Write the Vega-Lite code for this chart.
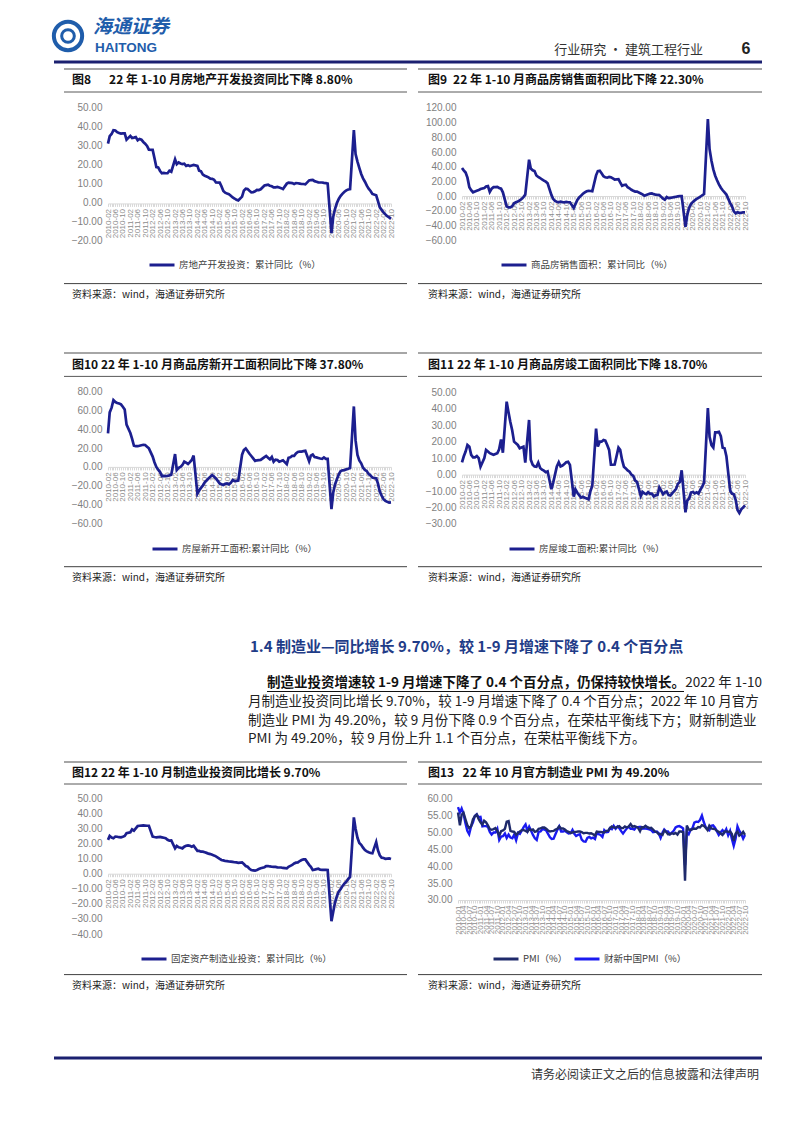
{
"$schema": "https://vega.github.io/schema/vega-lite/v6.json",
"background": "white",
"autosize": {"type": "pad"},
"padding": {"left": 45, "top": 8, "right": 0, "bottom": 0},
"config": {"view": {"stroke": null}, "font": "Noto Sans CJK SC"},
"datasets": {"m": [
{"d":"2010-01","p":55.8,"cx":57.4},
{"d":"2010-02","a":31.1,"b":38.2,"c":35.6,"e":7.5,"f":22.4,"p":52.0,"cx":55.8},
{"d":"2010-03","a":35.1,"b":35,"c":58,"e":11,"f":25,"p":55.1,"cx":57.0},
{"d":"2010-04","a":36.2,"b":32,"c":63,"e":14,"f":24,"p":55.7,"cx":55.4},
{"d":"2010-05","a":38.2,"b":25,"c":71,"e":18,"f":23.5,"p":53.9,"cx":52.7},
{"d":"2010-06","a":38.1,"b":12,"c":69,"e":17,"f":24.6,"p":52.1,"cx":50.4},
{"d":"2010-07","a":37.2,"b":8,"c":68,"e":12,"f":24.5,"p":51.2,"cx":49.4},
{"d":"2010-08","a":36.7,"b":5,"c":67.5,"e":10.5,"f":24.2,"p":51.7,"cx":51.7},
{"d":"2010-09","a":36.4,"b":6,"c":66.5,"e":10.5,"f":24.1,"p":53.8,"cx":52.9},
{"d":"2010-10","a":36.5,"b":7,"c":64,"e":11.3,"f":24.5,"p":54.7,"cx":54.8},
{"d":"2010-11","a":36.5,"b":8,"c":61,"e":10,"f":25,"p":55.2,"cx":55.3},
{"d":"2010-12","a":33.2,"b":9.5,"c":45,"e":4.8,"f":26.8,"p":53.9,"cx":54.4},
{"d":"2011-01","p":52.9,"cx":54.5},
{"d":"2011-02","a":35.2,"b":11,"c":36,"e":10,"f":27.5,"p":52.2,"cx":51.7},
{"d":"2011-03","a":34.1,"b":13,"c":30,"e":15,"f":29.4,"p":53.4,"cx":51.8},
{"d":"2011-04","a":34.3,"b":13.5,"c":22.5,"e":14,"f":28.5,"p":52.9,"cx":51.8},
{"d":"2011-05","a":34.6,"b":5.5,"c":22,"e":13,"f":30,"p":52.0,"cx":51.6},
{"d":"2011-06","a":32.9,"b":10,"c":22,"e":12.5,"f":31.6,"p":50.9,"cx":50.1},
{"d":"2011-07","a":33.6,"b":12,"c":22.5,"e":12,"f":31.8,"p":50.7,"cx":49.3},
{"d":"2011-08","a":33.2,"b":12,"c":23,"e":12.5,"f":31.9,"p":50.9,"cx":49.9},
{"d":"2011-09","a":32.0,"b":12.5,"c":23.5,"e":13,"f":32,"p":51.2,"cx":49.9},
{"d":"2011-10","a":31.1,"b":11,"c":23.3,"e":15.4,"f":31.9,"p":50.4,"cx":51.0},
{"d":"2011-11","a":29.9,"b":10,"c":21.5,"e":21.4,"f":31.8,"p":49.0,"cx":47.7},
{"d":"2011-12","a":27.9,"b":5,"c":19.7,"e":13.3,"f":31.8,"p":50.3,"cx":48.7},
{"d":"2012-01","p":50.5,"cx":48.8},
{"d":"2012-02","a":27.8,"b":-14,"c":11,"e":44.3,"f":24.6,"p":51.0,"cx":49.6},
{"d":"2012-03","a":23.5,"b":-15.5,"c":5,"e":38,"f":24.3,"p":53.1,"cx":48.3},
{"d":"2012-04","a":18.7,"b":-15.5,"c":0,"e":32,"f":24.1,"p":53.3,"cx":49.3},
{"d":"2012-05","a":18.5,"b":-14,"c":-3,"e":27,"f":24.3,"p":50.4,"cx":48.4},
{"d":"2012-06","a":16.6,"b":-10,"c":-5.5,"e":20,"f":24.4,"p":50.2,"cx":48.2},
{"d":"2012-07","a":15.4,"b":-8.5,"c":-9.8,"e":19,"f":24.1,"p":50.1,"cx":49.3},
{"d":"2012-08","a":15.6,"b":-7.5,"c":-9.5,"e":18,"f":23.8,"p":49.2,"cx":47.6},
{"d":"2012-09","a":15.4,"b":-6,"c":-9.8,"e":16,"f":23.5,"p":49.8,"cx":49.8},
{"d":"2012-10","a":15.4,"b":-4,"c":-9.5,"e":16.5,"f":22.5,"p":50.2,"cx":49.5},
{"d":"2012-11","a":16.7,"b":-1.5,"c":-9,"e":17,"f":21.9,"p":50.6,"cx":50.5},
{"d":"2012-12","a":16.2,"b":1.8,"c":-8.4,"e":7.3,"f":22.0,"p":50.6,"cx":51.5},
{"d":"2013-01","p":50.4,"cx":52.3},
{"d":"2013-02","a":22.8,"b":49.5,"c":13.7,"e":33.2,"f":16.8,"p":50.1,"cx":50.4},
{"d":"2013-03","a":20.2,"b":37.5,"c":-3.3,"e":9,"f":18.4,"p":50.9,"cx":51.6},
{"d":"2013-04","a":21.1,"b":35,"c":-1,"e":6,"f":17.5,"p":50.6,"cx":50.4},
{"d":"2013-05","a":20.6,"b":34,"c":0,"e":5,"f":17.2,"p":50.8,"cx":49.2},
{"d":"2013-06","a":20.3,"b":28,"c":2,"e":4.8,"f":16.8,"p":50.1,"cx":48.2},
{"d":"2013-07","a":20.5,"b":26,"c":5.6,"e":7.3,"f":17.9,"p":50.3,"cx":47.7},
{"d":"2013-08","a":19.3,"b":24.5,"c":4.5,"e":4,"f":18.5,"p":51.0,"cx":50.1},
{"d":"2013-09","a":19.7,"b":22.5,"c":3.1,"e":3,"f":18.8,"p":51.1,"cx":50.2},
{"d":"2013-10","a":19.2,"b":21,"c":5,"e":2.4,"f":18.5,"p":51.4,"cx":50.9},
{"d":"2013-11","a":19.5,"b":19.5,"c":7.4,"e":1.5,"f":17.9,"p":51.4,"cx":50.8},
{"d":"2013-12","a":19.8,"b":17.3,"c":12,"e":2.0,"f":18.5,"p":51.0,"cx":50.5},
{"d":"2014-01","p":50.5,"cx":49.5},
{"d":"2014-02","a":19.3,"b":1.5,"c":-28.5,"e":-8.9,"f":15.1,"p":50.2,"cx":48.5},
{"d":"2014-03","a":16.8,"b":-3.8,"c":-25.2,"e":-5,"f":15.1,"p":50.3,"cx":48.0},
{"d":"2014-04","a":16.4,"b":-6.8,"c":-22.3,"e":0,"f":14.6,"p":50.4,"cx":48.1},
{"d":"2014-05","a":14.7,"b":-7.8,"c":-19.8,"e":5,"f":14.6,"p":50.8,"cx":49.4},
{"d":"2014-06","a":14.1,"b":-8.6,"c":-16.4,"e":7.5,"f":14.2,"p":51.0,"cx":50.7},
{"d":"2014-07","a":13.7,"b":-7.6,"c":-14.4,"e":5,"f":13.8,"p":51.7,"cx":51.7},
{"d":"2014-08","a":13.2,"b":-8.3,"c":-12.4,"e":5.5,"f":13.3,"p":51.1,"cx":50.2},
{"d":"2014-09","a":12.5,"b":-8.6,"c":-10.5,"e":6.5,"f":13.0,"p":51.1,"cx":50.2},
{"d":"2014-10","a":12.4,"b":-8.0,"c":-8.7,"e":7.5,"f":12.6,"p":50.8,"cx":50.4},
{"d":"2014-11","a":11.9,"b":-8.5,"c":-10.5,"e":7.8,"f":12.0,"p":50.3,"cx":50.0},
{"d":"2014-12","a":10.5,"b":-8.5,"c":-12.2,"e":5.9,"f":11.5,"p":50.1,"cx":49.6},
{"d":"2015-01","p":49.8,"cx":49.7},
{"d":"2015-02","a":10.4,"b":-16.3,"c":-17.7,"e":-13.4,"f":9.8,"p":49.9,"cx":50.7},
{"d":"2015-03","a":8.5,"b":-11,"c":-18.4,"e":-9,"f":9.1,"p":50.1,"cx":49.6},
{"d":"2015-04","a":6.0,"b":-5.5,"c":-19.3,"e":-11,"f":8.8,"p":50.1,"cx":48.9},
{"d":"2015-05","a":5.1,"b":-2,"c":-18,"e":-12.5,"f":8.4,"p":50.2,"cx":49.2},
{"d":"2015-06","a":4.6,"b":0.5,"c":-17.6,"e":-14,"f":8.3,"p":50.2,"cx":49.4},
{"d":"2015-07","a":4.3,"b":3,"c":-18.6,"e":-13.5,"f":8.1,"p":50.0,"cx":47.8},
{"d":"2015-08","a":3.5,"b":5,"c":-17,"e":-14,"f":8.0,"p":49.7,"cx":47.3},
{"d":"2015-09","a":2.6,"b":6.5,"c":-14,"e":-14.5,"f":7.8,"p":49.8,"cx":47.2},
{"d":"2015-10","a":2.0,"b":7,"c":-15,"e":-15,"f":7.6,"p":49.8,"cx":48.3},
{"d":"2015-11","a":1.3,"b":6.8,"c":-14.8,"e":-10,"f":7.5,"p":49.6,"cx":48.6},
{"d":"2015-12","a":1.0,"b":6.5,"c":-14.6,"e":-6.9,"f":7.2,"p":49.7,"cx":48.2},
{"d":"2016-01","p":49.4,"cx":48.4},
{"d":"2016-02","a":3.0,"b":28.2,"c":13,"e":27.9,"f":7.5,"p":49.0,"cx":48.0},
{"d":"2016-03","a":6.2,"b":34,"c":18,"e":17,"f":6.4,"p":50.2,"cx":49.7},
{"d":"2016-04","a":7.2,"b":34.5,"c":19.7,"e":20,"f":5.1,"p":50.1,"cx":49.4},
{"d":"2016-05","a":7.0,"b":31,"c":17,"e":20,"f":4.6,"p":50.1,"cx":49.2},
{"d":"2016-06","a":6.1,"b":27,"c":14,"e":21,"f":3.3,"p":50.0,"cx":48.6},
{"d":"2016-07","a":5.3,"b":25.5,"c":11.6,"e":20.6,"f":2.4,"p":49.9,"cx":50.6},
{"d":"2016-08","a":5.4,"b":25,"c":9,"e":18,"f":2.2,"p":50.4,"cx":50.0},
{"d":"2016-09","a":5.8,"b":26,"c":6.3,"e":15,"f":2.0,"p":50.4,"cx":50.1},
{"d":"2016-10","a":6.6,"b":25.5,"c":7,"e":6,"f":2.5,"p":51.2,"cx":51.2},
{"d":"2016-11","a":6.5,"b":24,"c":7.2,"e":6,"f":3.1,"p":51.7,"cx":50.9},
{"d":"2016-12","a":6.9,"b":22.5,"c":7.4,"e":6.1,"f":3.6,"p":51.4,"cx":51.9},
{"d":"2017-01","p":51.3,"cx":51.0},
{"d":"2017-02","a":8.9,"b":23,"c":10.4,"e":16.4,"f":4.3,"p":51.6,"cx":51.7},
{"d":"2017-03","a":9.1,"b":18.5,"c":11.6,"e":15,"f":5.0,"p":51.8,"cx":51.2},
{"d":"2017-04","a":9.3,"b":14,"c":9.8,"e":8.9,"f":5.1,"p":51.2,"cx":50.3},
{"d":"2017-05","a":8.8,"b":15,"c":8.1,"e":4.8,"f":4.8,"p":51.2,"cx":49.6},
{"d":"2017-06","a":8.5,"b":15.5,"c":10.6,"e":3.8,"f":4.6,"p":51.7,"cx":50.4},
{"d":"2017-07","a":7.9,"b":12,"c":5.5,"e":2.5,"f":4.5,"p":51.4,"cx":51.1},
{"d":"2017-08","a":7.9,"b":10.5,"c":7.7,"e":1.8,"f":4.5,"p":51.7,"cx":51.6},
{"d":"2017-09","a":8.1,"b":8.5,"c":7.4,"e":0,"f":4.2,"p":52.4,"cx":51.0},
{"d":"2017-10","a":7.8,"b":7,"c":5.6,"e":-0.8,"f":4.1,"p":51.6,"cx":51.0},
{"d":"2017-11","a":7.5,"b":6,"c":6.2,"e":-3.6,"f":4.1,"p":51.8,"cx":50.8},
{"d":"2017-12","a":7.0,"b":6,"c":7.0,"e":-4.4,"f":3.8,"p":51.6,"cx":51.5},
{"d":"2018-01","p":51.3,"cx":51.5},
{"d":"2018-02","a":9.9,"b":3.5,"c":2.9,"e":-12.9,"f":3.5,"p":50.3,"cx":51.6},
{"d":"2018-03","a":10.4,"b":2.3,"c":9.7,"e":-10.5,"f":4.6,"p":51.5,"cx":51.0},
{"d":"2018-04","a":10.3,"b":0.5,"c":10.2,"e":-11.4,"f":5.2,"p":51.4,"cx":51.1},
{"d":"2018-05","a":10.2,"b":1.5,"c":11.8,"e":-11.9,"f":5.8,"p":51.9,"cx":51.1},
{"d":"2018-06","a":9.7,"b":2.5,"c":11.8,"e":-10.6,"f":6.8,"p":51.5,"cx":51.0},
{"d":"2018-07","a":10.2,"b":3.2,"c":14.4,"e":-11.6,"f":7.3,"p":51.2,"cx":50.8},
{"d":"2018-08","a":10.1,"b":3.5,"c":15.9,"e":-11.6,"f":7.5,"p":51.3,"cx":50.6},
{"d":"2018-09","a":9.9,"b":2.5,"c":16.4,"e":-13.3,"f":8.4,"p":50.8,"cx":50.0},
{"d":"2018-10","a":9.7,"b":1.8,"c":16.3,"e":-12.6,"f":9.1,"p":50.2,"cx":50.1},
{"d":"2018-11","a":9.7,"b":1.4,"c":16.8,"e":-12.3,"f":9.5,"p":50.0,"cx":50.2},
{"d":"2018-12","a":9.5,"b":1.3,"c":17.2,"e":-7.8,"f":9.5,"p":49.4,"cx":49.7},
{"d":"2019-01","p":49.5,"cx":48.3},
{"d":"2019-02","a":11.6,"b":-3.6,"c":6.0,"e":-11.9,"f":5.9,"p":49.2,"cx":49.9},
{"d":"2019-03","a":11.8,"b":-5,"c":11.9,"e":-10.8,"f":4.6,"p":50.5,"cx":50.8},
{"d":"2019-04","a":11.9,"b":-1.5,"c":13.1,"e":-10.3,"f":2.5,"p":50.1,"cx":50.2},
{"d":"2019-05","a":11.2,"b":-3,"c":10.5,"e":-12.4,"f":2.7,"p":49.4,"cx":50.2},
{"d":"2019-06","a":10.9,"b":-2.5,"c":10.1,"e":-12.7,"f":3.0,"p":49.4,"cx":49.4},
{"d":"2019-07","a":10.6,"b":-2,"c":9.5,"e":-11.3,"f":3.3,"p":49.7,"cx":49.9},
{"d":"2019-08","a":10.5,"b":-1.5,"c":8.9,"e":-10.0,"f":2.6,"p":49.5,"cx":50.4},
{"d":"2019-09","a":10.5,"b":-1,"c":8.6,"e":-8.6,"f":2.5,"p":49.8,"cx":51.4},
{"d":"2019-10","a":10.3,"b":-0.5,"c":10.0,"e":-5.5,"f":2.6,"p":49.3,"cx":51.7},
{"d":"2019-11","a":10.2,"b":0,"c":8.6,"e":-4.5,"f":2.5,"p":50.2,"cx":51.8},
{"d":"2019-12","a":9.9,"b":-0.1,"c":8.5,"e":2.6,"f":2.4,"p":50.2,"cx":51.5},
{"d":"2020-01","p":50.0,"cx":51.1},
{"d":"2020-02","a":-16.3,"b":-42,"c":-44.9,"e":-22.9,"f":-31.5,"p":35.7,"cx":40.3},
{"d":"2020-03","a":-7.7,"b":-26,"c":-27.2,"e":-15.8,"f":-25.2,"p":52.0,"cx":50.1},
{"d":"2020-04","a":-3.3,"b":-16,"c":-18.4,"e":-14.5,"f":-18.8,"p":50.8,"cx":49.4},
{"d":"2020-05","a":-0.3,"b":-11,"c":-12.8,"e":-10.9,"f":-14.8,"p":50.6,"cx":50.7},
{"d":"2020-06","a":1.9,"b":-8,"c":-7.6,"e":-10.5,"f":-11.7,"p":50.9,"cx":51.2},
{"d":"2020-07","a":3.4,"b":-6,"c":-4.5,"e":-11.4,"f":-10.2,"p":51.1,"cx":52.8},
{"d":"2020-08","a":4.6,"b":-4,"c":-3.6,"e":-10.8,"f":-8.1,"p":51.0,"cx":53.1},
{"d":"2020-09","a":5.6,"b":-2.5,"c":-3.4,"e":-11.6,"f":-6.5,"p":51.5,"cx":53.0},
{"d":"2020-10","a":6.3,"b":-1,"c":-2.6,"e":-9.2,"f":-5.3,"p":51.4,"cx":53.6},
{"d":"2020-11","a":6.8,"b":1,"c":-2.0,"e":-7.3,"f":-3.5,"p":52.1,"cx":54.9},
{"d":"2020-12","a":7.0,"b":2.6,"c":-1.2,"e":-4.9,"f":-2.2,"p":51.9,"cx":53.0},
{"d":"2021-01","p":51.3,"cx":51.5},
{"d":"2021-02","a":38.3,"b":104.9,"c":64.3,"e":40.4,"f":37.3,"p":50.6,"cx":50.9},
{"d":"2021-03","a":25.6,"b":63.8,"c":28.2,"e":22.9,"f":29.8,"p":51.9,"cx":50.6},
{"d":"2021-04","a":21.6,"b":48.1,"c":12.8,"e":17.9,"f":23.8,"p":51.1,"cx":51.9},
{"d":"2021-05","a":18.3,"b":36.3,"c":6.9,"e":16.4,"f":20.4,"p":51.0,"cx":52.0},
{"d":"2021-06","a":15.0,"b":27.7,"c":3.8,"e":25.7,"f":19.2,"p":50.9,"cx":51.3},
{"d":"2021-07","a":12.7,"b":21.5,"c":-0.9,"e":25.7,"f":17.3,"p":50.4,"cx":50.3},
{"d":"2021-08","a":10.9,"b":15.9,"c":-3.2,"e":26.0,"f":15.7,"p":50.1,"cx":49.2},
{"d":"2021-09","a":8.8,"b":11.3,"c":-4.5,"e":23.4,"f":14.8,"p":49.6,"cx":50.0},
{"d":"2021-10","a":7.2,"b":7.8,"c":-7.7,"e":16.3,"f":14.2,"p":49.2,"cx":50.6},
{"d":"2021-11","a":6.0,"b":4.8,"c":-9.1,"e":16.0,"f":13.7,"p":50.1,"cx":49.9},
{"d":"2021-12","a":4.4,"b":1.9,"c":-11.4,"e":11.2,"f":13.5,"p":50.3,"cx":50.9},
{"d":"2022-01","p":50.1,"cx":49.1},
{"d":"2022-02","a":3.7,"b":-9.6,"c":-12.2,"e":-9.8,"f":20.9,"p":50.2,"cx":50.4},
{"d":"2022-03","a":0.7,"b":-13.8,"c":-17.5,"e":-11.5,"f":15.6,"p":49.5,"cx":48.1},
{"d":"2022-04","a":-2.7,"b":-20.9,"c":-26.3,"e":-11.9,"f":12.2,"p":47.4,"cx":46.0},
{"d":"2022-05","a":-4.0,"b":-23.6,"c":-30.6,"e":-15.3,"f":10.6,"p":49.6,"cx":48.1},
{"d":"2022-06","a":-5.4,"b":-22.2,"c":-34.4,"e":-21.5,"f":10.4,"p":50.2,"cx":51.7},
{"d":"2022-07","a":-6.4,"b":-23.1,"c":-36.1,"e":-23.3,"f":9.9,"p":49.0,"cx":50.4},
{"d":"2022-08","a":-7.4,"b":-23.0,"c":-37.2,"e":-21.1,"f":10.0,"p":49.4,"cx":49.5},
{"d":"2022-09","a":-8.0,"b":-22.2,"c":-38.0,"e":-19.9,"f":10.1,"p":50.1,"cx":48.1},
{"d":"2022-10","a":-8.8,"b":-22.3,"c":-37.8,"e":-18.7,"f":9.7,"p":49.2,"cx":49.2}
]},
"spacing": 0,
"resolve": {"scale": {"color": "independent"}, "legend": {"color": "independent"}},
"vconcat": [
{"spacing": 0, "bounds": "flush", "hconcat": [
 {"width": 4, "height": 1, "data": {"values": []}, "mark": "point"},
 {
 "width": 708, "height": 60,
 "data": {"values": [{"logo": "海通证券", "en": "HAITONG", "sec": "行业研究 · 建筑工程行业", "pg": "6"}]},
 "layer": [
  {"mark": {"type": "rule", "color": "#1B2070", "strokeWidth": 3}, "encoding": {"y": {"datum": 54, "type": "quantitative", "scale": {"domain": [0, 60], "reverse": true, "nice": false, "zero": false}, "axis": null}}},
  {"mark": {"type": "point", "shape": "circle", "size": 800, "filled": false, "stroke": "#1F5DAB", "strokeWidth": 4, "opacity": 1}, "encoding": {"x": {"datum": 14, "type": "quantitative", "scale": {"domain": [0, 708], "nice": false, "zero": false}, "axis": null}, "y": {"datum": 28, "type": "quantitative", "axis": null}}},
  {"mark": {"type": "point", "shape": "circle", "size": 160, "filled": false, "stroke": "#1F5DAB", "strokeWidth": 3, "opacity": 1}, "encoding": {"x": {"datum": 14, "type": "quantitative", "axis": null}, "y": {"datum": 28, "type": "quantitative", "axis": null}}},
  {"mark": {"type": "text", "align": "left", "baseline": "middle", "fontSize": 19, "fontWeight": "bold", "fontStyle": "italic", "color": "#1F5DAB"}, "encoding": {"text": {"field": "logo"}, "x": {"datum": 39, "type": "quantitative", "axis": null}, "y": {"datum": 18.5, "type": "quantitative", "axis": null}}},
  {"mark": {"type": "text", "align": "left", "baseline": "middle", "font": "Liberation Sans", "fontSize": 13.5, "fontWeight": "bold", "color": "#1F5DAB"}, "encoding": {"text": {"field": "en"}, "x": {"datum": 41, "type": "quantitative", "axis": null}, "y": {"datum": 39.5, "type": "quantitative", "axis": null}}},
  {"mark": {"type": "text", "align": "right", "baseline": "middle", "fontSize": 13, "color": "#333333"}, "encoding": {"text": {"field": "sec"}, "x": {"datum": 649, "type": "quantitative", "axis": null}, "y": {"datum": 42, "type": "quantitative", "axis": null}}},
  {"mark": {"type": "text", "align": "center", "baseline": "middle", "font": "Liberation Sans", "fontSize": 16, "fontWeight": "bold", "color": "#222222"}, "encoding": {"text": {"field": "pg"}, "x": {"datum": 692, "type": "quantitative", "axis": null}, "y": {"datum": 41, "type": "quantitative", "axis": null}}}
 ]
 }
]},
{"spacing": 0, "bounds": "flush", "hconcat": [
 {"width": 14, "height": 1, "data": {"values": []}, "mark": "point"},
 {"width": 343, "height": 25, "data": {"values": [{"t": "图8\u2003\u200222 年 1-10 月房地产开发投资同比下降 8.80%"}]},
  "layer": [
   {"mark": {"type": "rule", "color": "#A6A6A6", "strokeWidth": 2}, "encoding": {"y": {"datum": 1, "type": "quantitative", "scale": {"domain": [0, 25], "reverse": true, "nice": false, "zero": false}, "axis": null}}},
   {"mark": {"type": "rule", "color": "#595959", "strokeWidth": 1}, "encoding": {"y": {"datum": 24, "type": "quantitative", "axis": null}}},
   {"mark": {"type": "text", "align": "left", "baseline": "middle", "fontSize": 12, "fontWeight": "bold", "color": "#111111"}, "encoding": {"text": {"field": "t"}, "x": {"datum": 8, "type": "quantitative", "scale": {"domain": [0, 343], "nice": false, "zero": false}, "axis": null}, "y": {"datum": 12, "type": "quantitative", "axis": null}}}
  ]},
 {"width": 11, "height": 1, "data": {"values": []}, "mark": "point"},
 {"width": 344, "height": 25, "data": {"values": [{"t": "图9\u200222 年 1-10 月商品房销售面积同比下降 22.30%"}]},
  "layer": [
   {"mark": {"type": "rule", "color": "#A6A6A6", "strokeWidth": 2}, "encoding": {"y": {"datum": 1, "type": "quantitative", "scale": {"domain": [0, 25], "reverse": true, "nice": false, "zero": false}, "axis": null}}},
   {"mark": {"type": "rule", "color": "#595959", "strokeWidth": 1}, "encoding": {"y": {"datum": 24, "type": "quantitative", "axis": null}}},
   {"mark": {"type": "text", "align": "left", "baseline": "middle", "fontSize": 12, "fontWeight": "bold", "color": "#111111"}, "encoding": {"text": {"field": "t"}, "x": {"datum": 10, "type": "quantitative", "scale": {"domain": [0, 344], "nice": false, "zero": false}, "axis": null}, "y": {"datum": 12, "type": "quantitative", "axis": null}}}
  ]}
]},
{"spacing": 0, "bounds": "flush",
 "resolve": {"scale": {"color": "independent"}, "legend": {"color": "independent"}},
 "hconcat": [
 {"width": 58, "height": 1, "data": {"values": []}, "mark": "point"},
 {"width": 283, "height": 190, "data": {"name": "m"}, "transform": [{"filter": "isValid(datum.a)"}],
  "mark": {"type": "line", "strokeWidth": 2.7},
  "encoding": {
   "x": {"field": "d", "type": "temporal", "scale": {"type": "utc", "nice": false}, "axis": {"title": null, "offset": -79.57, "grid": false, "domainColor": "#D9D9D9", "tickColor": "#D9D9D9", "tickSize": 3, "tickCount": {"interval": "month", "step": 1}, "labelExpr": "utcmonth(datum.value) % 4 == 1 ? utcFormat(datum.value, '%Y-%m') : ''", "labelAngle": -90, "labelFont": "Liberation Sans", "labelFontSize": 8, "labelColor": "#8C8C8C", "labelOverlap": false, "labelFlush": false, "labelBound": false, "labelPadding": 2}},
   "y": {"field": "a", "type": "quantitative", "scale": {"domain": [-42.803, 57.9545], "nice": false, "zero": false}, "axis": {"title": null, "values": [-20, -10, 0, 10, 20, 30, 40, 50], "format": ".2f", "domain": false, "ticks": false, "grid": false, "labelOverlap": false, "labelFont": "Liberation Sans", "labelFontSize": 10, "labelColor": "#7F7F7F", "labelPadding": 6}},
   "color": {"datum": "房地产开发投资：累计同比（%）", "type": "nominal", "scale": {"range": ["#1C1F8F"]}, "legend": {"orient": "none", "legendX": 40, "legendY": 158, "title": null, "direction": "horizontal", "symbolType": "stroke", "symbolSize": 625, "symbolStrokeWidth": 3, "labelFont": "Noto Sans CJK SC", "labelFontSize": 9.5, "labelColor": "#404040", "labelOffset": 3, "labelLimit": 300, "padding": 0}}
  }},
 {"width": 71, "height": 1, "data": {"values": []}, "mark": "point"},
 {"width": 283, "height": 190, "data": {"name": "m"}, "transform": [{"filter": "isValid(datum.b)"}],
  "mark": {"type": "line", "strokeWidth": 2.7},
  "encoding": {
   "x": {"field": "d", "type": "temporal", "scale": {"type": "utc", "nice": false}, "axis": {"title": null, "offset": -87, "grid": false, "domainColor": "#D9D9D9", "tickColor": "#D9D9D9", "tickSize": 3, "tickCount": {"interval": "month", "step": 1}, "labelExpr": "utcmonth(datum.value) % 4 == 1 ? utcFormat(datum.value, '%Y-%m') : ''", "labelAngle": -90, "labelFont": "Liberation Sans", "labelFontSize": 8, "labelColor": "#8C8C8C", "labelOverlap": false, "labelFlush": false, "labelBound": false, "labelPadding": 2}},
   "y": {"field": "b", "type": "quantitative", "scale": {"domain": [-118.636, 140.4545], "nice": false, "zero": false}, "axis": {"title": null, "values": [-60, -40, -20, 0, 20, 40, 60, 80, 100, 120], "format": ".2f", "domain": false, "ticks": false, "grid": false, "labelOverlap": false, "labelFont": "Liberation Sans", "labelFontSize": 10, "labelColor": "#7F7F7F", "labelPadding": 6}},
   "color": {"datum": "商品房销售面积：累计同比（%）", "type": "nominal", "scale": {"range": ["#1C1F8F"]}, "legend": {"orient": "none", "legendX": 38, "legendY": 158, "title": null, "direction": "horizontal", "symbolType": "stroke", "symbolSize": 625, "symbolStrokeWidth": 3, "labelFont": "Noto Sans CJK SC", "labelFontSize": 9.5, "labelColor": "#404040", "labelOffset": 3, "labelLimit": 300, "padding": 0}}
  }}
]},
{"spacing": 0, "bounds": "flush", "hconcat": [
 {"width": 14, "height": 1, "data": {"values": []}, "mark": "point"},
 {"width": 343, "height": 69, "data": {"values": [{"t": "资料来源：wind，海通证券研究所"}]},
  "layer": [
   {"mark": {"type": "rule", "color": "#404040", "strokeWidth": 1}, "encoding": {"y": {"datum": 0.6, "type": "quantitative", "scale": {"domain": [0, 69], "reverse": true, "nice": false, "zero": false}, "axis": null}}},
   {"mark": {"type": "text", "align": "left", "baseline": "middle", "fontSize": 10, "color": "#222222"}, "encoding": {"text": {"field": "t"}, "x": {"datum": 8, "type": "quantitative", "scale": {"domain": [0, 343], "nice": false, "zero": false}, "axis": null}, "y": {"datum": 11.5, "type": "quantitative", "axis": null}}}
  ]},
 {"width": 11, "height": 1, "data": {"values": []}, "mark": "point"},
 {"width": 344, "height": 69, "data": {"values": [{"t": "资料来源：wind，海通证券研究所"}]},
  "layer": [
   {"mark": {"type": "rule", "color": "#404040", "strokeWidth": 1}, "encoding": {"y": {"datum": 0.6, "type": "quantitative", "scale": {"domain": [0, 69], "reverse": true, "nice": false, "zero": false}, "axis": null}}},
   {"mark": {"type": "text", "align": "left", "baseline": "middle", "fontSize": 10, "color": "#222222"}, "encoding": {"text": {"field": "t"}, "x": {"datum": 10, "type": "quantitative", "scale": {"domain": [0, 344], "nice": false, "zero": false}, "axis": null}, "y": {"datum": 11.5, "type": "quantitative", "axis": null}}}
  ]}
]},
{"spacing": 0, "bounds": "flush", "hconcat": [
 {"width": 14, "height": 1, "data": {"values": []}, "mark": "point"},
 {"width": 343, "height": 25, "data": {"values": [{"t": "图10 22 年 1-10 月商品房新开工面积同比下降 37.80%"}]},
  "layer": [
   {"mark": {"type": "rule", "color": "#A6A6A6", "strokeWidth": 2}, "encoding": {"y": {"datum": 1, "type": "quantitative", "scale": {"domain": [0, 25], "reverse": true, "nice": false, "zero": false}, "axis": null}}},
   {"mark": {"type": "rule", "color": "#595959", "strokeWidth": 1}, "encoding": {"y": {"datum": 24.4, "type": "quantitative", "axis": null}}},
   {"mark": {"type": "text", "align": "left", "baseline": "middle", "fontSize": 12, "fontWeight": "bold", "color": "#111111"}, "encoding": {"text": {"field": "t"}, "x": {"datum": 8, "type": "quantitative", "scale": {"domain": [0, 343], "nice": false, "zero": false}, "axis": null}, "y": {"datum": 13, "type": "quantitative", "axis": null}}}
  ]},
 {"width": 11, "height": 1, "data": {"values": []}, "mark": "point"},
 {"width": 344, "height": 25, "data": {"values": [{"t": "图11 22 年 1-10 月商品房竣工面积同比下降 18.70%"}]},
  "layer": [
   {"mark": {"type": "rule", "color": "#A6A6A6", "strokeWidth": 2}, "encoding": {"y": {"datum": 1, "type": "quantitative", "scale": {"domain": [0, 25], "reverse": true, "nice": false, "zero": false}, "axis": null}}},
   {"mark": {"type": "rule", "color": "#595959", "strokeWidth": 1}, "encoding": {"y": {"datum": 24.4, "type": "quantitative", "axis": null}}},
   {"mark": {"type": "text", "align": "left", "baseline": "middle", "fontSize": 12, "fontWeight": "bold", "color": "#111111"}, "encoding": {"text": {"field": "t"}, "x": {"datum": 10, "type": "quantitative", "scale": {"domain": [0, 344], "nice": false, "zero": false}, "axis": null}, "y": {"datum": 13, "type": "quantitative", "axis": null}}}
  ]}
]},
{"spacing": 0, "bounds": "flush",
 "resolve": {"scale": {"color": "independent"}, "legend": {"color": "independent"}},
 "hconcat": [
 {"width": 58, "height": 1, "data": {"values": []}, "mark": "point"},
 {"width": 283, "height": 189, "data": {"name": "m"}, "transform": [{"filter": "isValid(datum.c)"}],
  "mark": {"type": "line", "strokeWidth": 2.7},
  "encoding": {
   "x": {"field": "d", "type": "temporal", "scale": {"type": "utc", "nice": false}, "axis": {"title": null, "offset": -99.1, "grid": false, "domainColor": "#D9D9D9", "tickColor": "#D9D9D9", "tickSize": 3, "tickCount": {"interval": "month", "step": 1}, "labelExpr": "utcmonth(datum.value) % 4 == 1 ? utcFormat(datum.value, '%Y-%m') : ''", "labelAngle": -90, "labelFont": "Liberation Sans", "labelFontSize": 8, "labelColor": "#8C8C8C", "labelOverlap": false, "labelFlush": false, "labelBound": false, "labelPadding": 2}},
   "y": {"field": "c", "type": "quantitative", "scale": {"domain": [-105.426, 95.638], "nice": false, "zero": false}, "axis": {"title": null, "values": [-60, -40, -20, 0, 20, 40, 60, 80], "format": ".2f", "domain": false, "ticks": false, "grid": false, "labelOverlap": false, "labelFont": "Liberation Sans", "labelFontSize": 10, "labelColor": "#7F7F7F", "labelPadding": 6}},
   "color": {"datum": "房屋新开工面积:累计同比（%）", "type": "nominal", "scale": {"range": ["#1C1F8F"]}, "legend": {"orient": "none", "legendX": 43, "legendY": 158, "title": null, "direction": "horizontal", "symbolType": "stroke", "symbolSize": 625, "symbolStrokeWidth": 3, "labelFont": "Noto Sans CJK SC", "labelFontSize": 9.5, "labelColor": "#404040", "labelOffset": 3, "labelLimit": 300, "padding": 0}}
  }},
 {"width": 71, "height": 1, "data": {"values": []}, "mark": "point"},
 {"width": 283, "height": 189, "data": {"name": "m"}, "transform": [{"filter": "isValid(datum.e)"}],
  "mark": {"type": "line", "strokeWidth": 2.7},
  "encoding": {
   "x": {"field": "d", "type": "temporal", "scale": {"type": "utc", "nice": false}, "axis": {"title": null, "offset": -91.4, "grid": false, "domainColor": "#D9D9D9", "tickColor": "#D9D9D9", "tickSize": 3, "tickCount": {"interval": "month", "step": 1}, "labelExpr": "utcmonth(datum.value) % 4 == 1 ? utcFormat(datum.value, '%Y-%m') : ''", "labelAngle": -90, "labelFont": "Liberation Sans", "labelFontSize": 8, "labelColor": "#8C8C8C", "labelOverlap": false, "labelFlush": false, "labelBound": false, "labelPadding": 2}},
   "y": {"field": "e", "type": "quantitative", "scale": {"domain": [-55.513, 59.294], "nice": false, "zero": false}, "axis": {"title": null, "values": [-30, -20, -10, 0, 10, 20, 30, 40, 50], "format": ".2f", "domain": false, "ticks": false, "grid": false, "labelOverlap": false, "labelFont": "Liberation Sans", "labelFontSize": 10, "labelColor": "#7F7F7F", "labelPadding": 6}},
   "color": {"datum": "房屋竣工面积:累计同比（%）", "type": "nominal", "scale": {"range": ["#1C1F8F"]}, "legend": {"orient": "none", "legendX": 46, "legendY": 158, "title": null, "direction": "horizontal", "symbolType": "stroke", "symbolSize": 625, "symbolStrokeWidth": 3, "labelFont": "Noto Sans CJK SC", "labelFontSize": 9.5, "labelColor": "#404040", "labelOffset": 3, "labelLimit": 300, "padding": 0}}
  }}
]},
{"spacing": 0, "bounds": "flush", "hconcat": [
 {"width": 14, "height": 1, "data": {"values": []}, "mark": "point"},
 {"width": 343, "height": 34, "data": {"values": [{"t": "资料来源：wind，海通证券研究所"}]},
  "layer": [
   {"mark": {"type": "rule", "color": "#404040", "strokeWidth": 1}, "encoding": {"y": {"datum": 0.7, "type": "quantitative", "scale": {"domain": [0, 34], "reverse": true, "nice": false, "zero": false}, "axis": null}}},
   {"mark": {"type": "text", "align": "left", "baseline": "middle", "fontSize": 10, "color": "#222222"}, "encoding": {"text": {"field": "t"}, "x": {"datum": 8, "type": "quantitative", "scale": {"domain": [0, 343], "nice": false, "zero": false}, "axis": null}, "y": {"datum": 12.3, "type": "quantitative", "axis": null}}}
  ]},
 {"width": 11, "height": 1, "data": {"values": []}, "mark": "point"},
 {"width": 344, "height": 34, "data": {"values": [{"t": "资料来源：wind，海通证券研究所"}]},
  "layer": [
   {"mark": {"type": "rule", "color": "#404040", "strokeWidth": 1}, "encoding": {"y": {"datum": 0.7, "type": "quantitative", "scale": {"domain": [0, 34], "reverse": true, "nice": false, "zero": false}, "axis": null}}},
   {"mark": {"type": "text", "align": "left", "baseline": "middle", "fontSize": 10, "color": "#222222"}, "encoding": {"text": {"field": "t"}, "x": {"datum": 10, "type": "quantitative", "scale": {"domain": [0, 344], "nice": false, "zero": false}, "axis": null}, "y": {"datum": 12.3, "type": "quantitative", "axis": null}}}
  ]}
]},
{"spacing": 0, "bounds": "flush", "hconcat": [
 {"width": 4, "height": 1, "data": {"values": []}, "mark": "point"},
 {
 "width": 708, "height": 161,
 "data": {"values": [{"h": "1.4 制造业—同比增长 9.70%，较 1-9 月增速下降了 0.4 个百分点", "b1": "制造业投资增速较 1-9 月增速下降了 0.4 个百分点，仍保持较快增长。", "n1": "2022 年 1-10", "l2": "月制造业投资同比增长 9.70%，较 1-9 月增速下降了 0.4 个百分点；2022 年 10 月官方", "l3": "制造业 PMI 为 49.20%，较 9 月份下降 0.9 个百分点，在荣枯平衡线下方；财新制造业", "l4": "PMI 为 49.20%，较 9 月份上升 1.1 个百分点，在荣枯平衡线下方。"}]},
 "layer": [
  {"mark": {"type": "text", "align": "left", "baseline": "middle", "fontSize": 15, "fontWeight": "bold", "color": "#1F3C88"}, "encoding": {"text": {"field": "h"}, "x": {"datum": 196, "type": "quantitative", "scale": {"domain": [0, 708], "nice": false, "zero": false}, "axis": null}, "y": {"datum": 47, "type": "quantitative", "scale": {"domain": [0, 161], "reverse": true, "nice": false, "zero": false}, "axis": null}}},
  {"mark": {"type": "text", "align": "left", "baseline": "middle", "fontSize": 13.5, "fontWeight": "bold", "color": "#111111"}, "encoding": {"text": {"field": "b1"}, "x": {"datum": 213, "type": "quantitative", "axis": null}, "y": {"datum": 83, "type": "quantitative", "axis": null}}},
  {"mark": {"type": "rule", "color": "#111111", "strokeWidth": 1}, "encoding": {"x": {"datum": 213, "type": "quantitative", "axis": null}, "x2": {"datum": 630}, "y": {"datum": 91.5, "type": "quantitative", "axis": null}}},
  {"mark": {"type": "text", "align": "right", "baseline": "middle", "fontSize": 13.5, "color": "#222222"}, "encoding": {"text": {"field": "n1"}, "x": {"datum": 708, "type": "quantitative", "axis": null}, "y": {"datum": 83, "type": "quantitative", "axis": null}}},
  {"mark": {"type": "text", "align": "left", "baseline": "middle", "fontSize": 13.5, "color": "#222222"}, "encoding": {"text": {"field": "l2"}, "x": {"datum": 194, "type": "quantitative", "axis": null}, "y": {"datum": 102, "type": "quantitative", "axis": null}}},
  {"mark": {"type": "text", "align": "left", "baseline": "middle", "fontSize": 13.5, "color": "#222222"}, "encoding": {"text": {"field": "l3"}, "x": {"datum": 194, "type": "quantitative", "axis": null}, "y": {"datum": 121, "type": "quantitative", "axis": null}}},
  {"mark": {"type": "text", "align": "left", "baseline": "middle", "fontSize": 13.5, "color": "#222222"}, "encoding": {"text": {"field": "l4"}, "x": {"datum": 194, "type": "quantitative", "axis": null}, "y": {"datum": 139, "type": "quantitative", "axis": null}}}
 ]
 }
]},
{"spacing": 0, "bounds": "flush", "hconcat": [
 {"width": 14, "height": 1, "data": {"values": []}, "mark": "point"},
 {"width": 343, "height": 24, "data": {"values": [{"t": "图12 22 年 1-10 月制造业投资同比增长 9.70%"}]},
  "layer": [
   {"mark": {"type": "rule", "color": "#A6A6A6", "strokeWidth": 2}, "encoding": {"y": {"datum": 1, "type": "quantitative", "scale": {"domain": [0, 24], "reverse": true, "nice": false, "zero": false}, "axis": null}}},
   {"mark": {"type": "rule", "color": "#595959", "strokeWidth": 1}, "encoding": {"y": {"datum": 23, "type": "quantitative", "axis": null}}},
   {"mark": {"type": "text", "align": "left", "baseline": "middle", "fontSize": 12, "fontWeight": "bold", "color": "#111111"}, "encoding": {"text": {"field": "t"}, "x": {"datum": 8, "type": "quantitative", "scale": {"domain": [0, 343], "nice": false, "zero": false}, "axis": null}, "y": {"datum": 11.7, "type": "quantitative", "axis": null}}}
  ]},
 {"width": 11, "height": 1, "data": {"values": []}, "mark": "point"},
 {"width": 344, "height": 24, "data": {"values": [{"t": "图13\u2002\u200922 年 10 月官方制造业 PMI 为 49.20%"}]},
  "layer": [
   {"mark": {"type": "rule", "color": "#A6A6A6", "strokeWidth": 2}, "encoding": {"y": {"datum": 1, "type": "quantitative", "scale": {"domain": [0, 24], "reverse": true, "nice": false, "zero": false}, "axis": null}}},
   {"mark": {"type": "rule", "color": "#595959", "strokeWidth": 1}, "encoding": {"y": {"datum": 23, "type": "quantitative", "axis": null}}},
   {"mark": {"type": "text", "align": "left", "baseline": "middle", "fontSize": 12, "fontWeight": "bold", "color": "#111111"}, "encoding": {"text": {"field": "t"}, "x": {"datum": 10, "type": "quantitative", "scale": {"domain": [0, 344], "nice": false, "zero": false}, "axis": null}, "y": {"datum": 11.7, "type": "quantitative", "axis": null}}}
  ]}
]},
{"spacing": 0, "bounds": "flush",
 "resolve": {"scale": {"color": "independent"}, "legend": {"color": "independent"}},
 "hconcat": [
 {"width": 58, "height": 1, "data": {"values": []}, "mark": "point"},
 {"width": 283, "height": 189, "data": {"name": "m"}, "transform": [{"filter": "isValid(datum.f)"}],
  "mark": {"type": "line", "strokeWidth": 2.7},
  "encoding": {
   "x": {"field": "d", "type": "temporal", "scale": {"type": "utc", "nice": false}, "axis": {"title": null, "offset": -100.31, "grid": false, "domainColor": "#D9D9D9", "tickColor": "#D9D9D9", "tickSize": 3, "tickCount": {"interval": "month", "step": 1}, "labelExpr": "utcmonth(datum.value) % 4 == 1 ? utcFormat(datum.value, '%Y-%m') : ''", "labelAngle": -90, "labelFont": "Liberation Sans", "labelFontSize": 8, "labelColor": "#8C8C8C", "labelOverlap": false, "labelFlush": false, "labelBound": false, "labelPadding": 2}},
   "y": {"field": "f", "type": "quantitative", "scale": {"domain": [-66.529, 58.821], "nice": false, "zero": false}, "axis": {"title": null, "values": [-40, -30, -20, -10, 0, 10, 20, 30, 40, 50], "format": ".2f", "domain": false, "ticks": false, "grid": false, "labelOverlap": false, "labelFont": "Liberation Sans", "labelFontSize": 10, "labelColor": "#7F7F7F", "labelPadding": 6}},
   "color": {"datum": "固定资产制造业投资：累计同比（%）", "type": "nominal", "scale": {"range": ["#1C1F8F"]}, "legend": {"orient": "none", "legendX": 32, "legendY": 160, "title": null, "direction": "horizontal", "symbolType": "stroke", "symbolSize": 625, "symbolStrokeWidth": 3, "labelFont": "Noto Sans CJK SC", "labelFontSize": 9.5, "labelColor": "#404040", "labelOffset": 3, "labelLimit": 300, "padding": 0}}
  }},
 {"width": 67, "height": 1, "data": {"values": []}, "mark": "point"},
 {"width": 287, "height": 189, "data": {"name": "m"},
  "encoding": {
   "x": {"field": "d", "type": "temporal", "scale": {"type": "utc", "nice": false}, "axis": {"title": null, "offset": -74, "grid": false, "domainColor": "#D9D9D9", "tickColor": "#D9D9D9", "tickSize": 3, "tickCount": {"interval": "month", "step": 1}, "labelExpr": "utcmonth(datum.value) % 3 == 0 ? utcFormat(datum.value, '%Y-%m') : ''", "labelAngle": -90, "labelFont": "Liberation Sans", "labelFontSize": 8, "labelColor": "#8C8C8C", "labelOverlap": false, "labelFlush": false, "labelBound": false, "labelPadding": 2}}
  },
  "layer": [
   {"mark": {"type": "line", "strokeWidth": 2.4},
    "encoding": {
     "y": {"field": "cx", "type": "quantitative", "scale": {"domain": [8.171, 63.923], "nice": false, "zero": false}, "axis": {"title": null, "values": [30, 35, 40, 45, 50, 55, 60], "format": ".2f", "domain": false, "ticks": false, "grid": false, "labelOverlap": false, "labelFont": "Liberation Sans", "labelFontSize": 10, "labelColor": "#7F7F7F", "labelPadding": 6}},
     "color": {"datum": "财新中国PMI（%）", "type": "nominal", "scale": {"domain": ["PMI（%）", "财新中国PMI（%）"], "range": ["#1F2A6B", "#1A1AF0"]}, "legend": {"orient": "none", "legendX": 34, "legendY": 160, "title": null, "direction": "horizontal", "symbolType": "stroke", "symbolSize": 625, "symbolStrokeWidth": 3, "labelFont": "Noto Sans CJK SC", "labelFontSize": 9.5, "labelColor": "#404040", "labelOffset": 3, "labelLimit": 300, "padding": 0, "columnPadding": 0}}
    }},
   {"mark": {"type": "line", "strokeWidth": 2.4},
    "encoding": {
     "y": {"field": "p", "type": "quantitative", "axis": {"title": null, "values": [30, 35, 40, 45, 50, 55, 60], "format": ".2f", "domain": false, "ticks": false, "grid": false, "labelOverlap": false, "labelFont": "Liberation Sans", "labelFontSize": 10, "labelColor": "#7F7F7F", "labelPadding": 6}},
     "color": {"datum": "PMI（%）", "type": "nominal"}
    }}
  ]}
]},
{"spacing": 0, "bounds": "flush", "hconcat": [
 {"width": 14, "height": 1, "data": {"values": []}, "mark": "point"},
 {"width": 343, "height": 76, "data": {"values": [{"t": "资料来源：wind，海通证券研究所"}]},
  "layer": [
   {"mark": {"type": "rule", "color": "#404040", "strokeWidth": 1}, "encoding": {"y": {"datum": 0.6, "type": "quantitative", "scale": {"domain": [0, 76], "reverse": true, "nice": false, "zero": false}, "axis": null}}},
   {"mark": {"type": "text", "align": "left", "baseline": "middle", "fontSize": 10, "color": "#222222"}, "encoding": {"text": {"field": "t"}, "x": {"datum": 8, "type": "quantitative", "scale": {"domain": [0, 343], "nice": false, "zero": false}, "axis": null}, "y": {"datum": 12, "type": "quantitative", "axis": null}}}
  ]},
 {"width": 11, "height": 1, "data": {"values": []}, "mark": "point"},
 {"width": 344, "height": 76, "data": {"values": [{"t": "资料来源：wind，海通证券研究所"}]},
  "layer": [
   {"mark": {"type": "rule", "color": "#404040", "strokeWidth": 1}, "encoding": {"y": {"datum": 0.6, "type": "quantitative", "scale": {"domain": [0, 76], "reverse": true, "nice": false, "zero": false}, "axis": null}}},
   {"mark": {"type": "text", "align": "left", "baseline": "middle", "fontSize": 10, "color": "#222222"}, "encoding": {"text": {"field": "t"}, "x": {"datum": 10, "type": "quantitative", "scale": {"domain": [0, 344], "nice": false, "zero": false}, "axis": null}, "y": {"datum": 12, "type": "quantitative", "axis": null}}}
  ]}
]},
{"spacing": 0, "bounds": "flush", "hconcat": [
 {"width": 4, "height": 1, "data": {"values": []}, "mark": "point"},
 {
 "width": 708, "height": 40,
 "data": {"values": [{"t": "请务必阅读正文之后的信息披露和法律声明"}]},
 "layer": [
  {"mark": {"type": "rule", "color": "#1B2070", "strokeWidth": 3}, "encoding": {"y": {"datum": 8, "type": "quantitative", "scale": {"domain": [0, 40], "reverse": true, "nice": false, "zero": false}, "axis": null}}},
  {"mark": {"type": "text", "align": "right", "baseline": "middle", "fontSize": 12, "color": "#333333"}, "encoding": {"text": {"field": "t"}, "x": {"datum": 705, "type": "quantitative", "scale": {"domain": [0, 708], "nice": false, "zero": false}, "axis": null}, "y": {"datum": 25, "type": "quantitative", "axis": null}}}
 ]
 }
]}
]
}
